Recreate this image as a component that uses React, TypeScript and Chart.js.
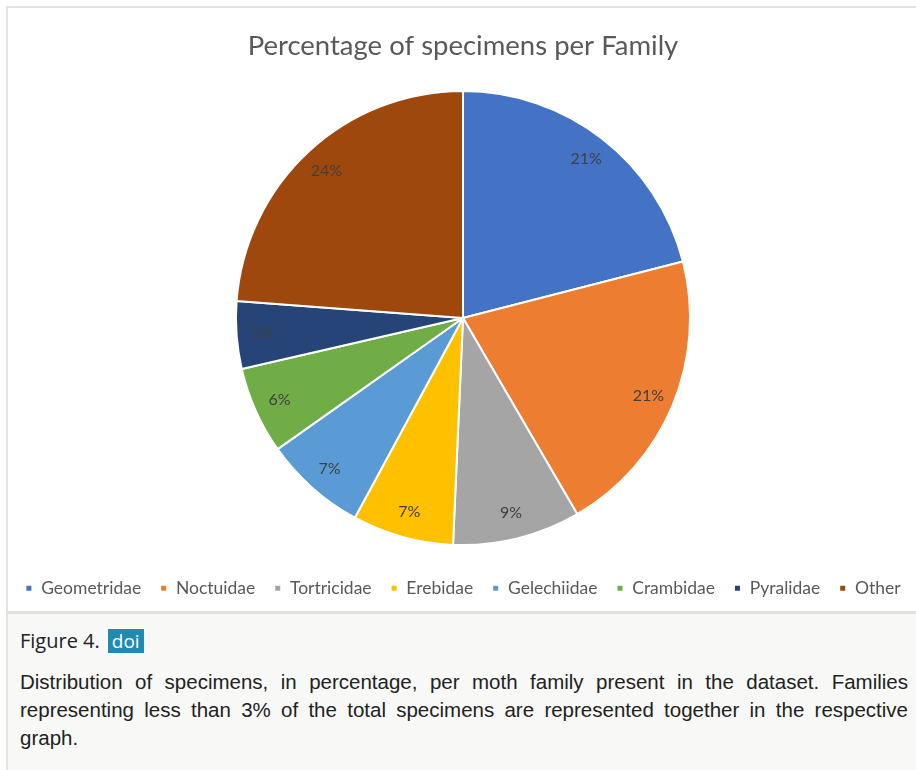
import React, { useEffect, useRef } from "react";
import { Chart, registerables } from "chart.js";

Chart.register(...registerables);

const chartTitle = "Percentage of specimens per Family";
const families = ["Geometridae", "Noctuidae", "Tortricidae", "Erebidae", "Gelechiidae", "Crambidae", "Pyralidae", "Other"];
const percentages = [21.0, 20.6, 9.1, 7.2, 7.3, 6.2, 4.8, 23.8];
const sliceColors = ["#4472C4", "#ED7D31", "#A5A5A5", "#FFC000", "#5B9BD5", "#70AD47", "#264478", "#9E480E"];

const captionTitle = "Figure 4.";
const captionBadge = "doi";
const captionText =
  "Distribution of specimens, in percentage, per moth family present in the dataset. Families representing less than 3% of the total specimens are represented together in the respective graph.";

const CANVAS_W = 950;
const CANVAS_H = 603;

const sliceLabelPlugin = {
  id: "sliceLabels",
  afterDatasetsDraw(chart: any) {
    const meta = chart.getDatasetMeta(0);
    const ctx = chart.ctx;
    const values: number[] = chart.data.datasets[0].data;
    const total = values.reduce((a, b) => a + b, 0);
    ctx.save();
    ctx.font = "16px Lato";
    ctx.fillStyle = "#404040";
    ctx.textAlign = "center";
    ctx.textBaseline = "middle";
    meta.data.forEach((arc: any, i: number) => {
      const p = arc.getProps(["x", "y", "startAngle", "endAngle", "outerRadius"], true);
      const mid = (p.startAngle + p.endAngle) / 2;
      const r = p.outerRadius * 0.885;
      const pct = Math.round((values[i] / total) * 100);
      ctx.fillText(pct + "%", p.x + Math.cos(mid) * r, p.y + Math.sin(mid) * r);
    });
    ctx.restore();
  },
};

function PieChart() {
  const ref = useRef<HTMLCanvasElement | null>(null);
  useEffect(() => {
    if (!ref.current) return;
    const chart = new Chart(ref.current, {
      type: "pie",
      data: {
        labels: families,
        datasets: [
          {
            data: percentages,
            backgroundColor: sliceColors,
            borderColor: "#ffffff",
            borderWidth: 2,
          },
        ],
      },
      options: {
        animation: false,
        responsive: false,
        maintainAspectRatio: false,
        layout: { padding: { top: 0, bottom: 4, left: 0, right: 0 } },
        plugins: {
          title: {
            display: true,
            text: chartTitle,
            color: "#595959",
            font: { family: "Lato", size: 27.5, weight: "normal" },
            padding: { top: 22, bottom: 27 },
          },
          legend: {
            position: "bottom",
            title: { display: true, text: " ", font: { size: 12 }, padding: 0 },
            labels: {
              boxWidth: 7,
              boxHeight: 7,
              color: "#595959",
              font: { family: "Lato", size: 17.5 },
              padding: 19,
            },
          },
          tooltip: { enabled: false },
        },
      },
      plugins: [sliceLabelPlugin],
    });
    return () => chart.destroy();
  }, []);
  return (
    <canvas
      ref={ref}
      width={CANVAS_W}
      height={CANVAS_H}
      style={{ display: "block", width: CANVAS_W, height: CANVAS_H }}
    />
  );
}

export default function App() {
  return (
    <div style={{ position: "absolute", left: 0, top: 0, width: 916, height: 770, background: "#ffffff", overflow: "hidden" }}>
      <div style={{ position: "absolute", left: -12, top: 8 }}>
        <PieChart />
      </div>
      <div style={{ position: "absolute", left: 6, top: 6, width: 910, height: 2, background: "#e4e4df" }} />
      <div style={{ position: "absolute", left: 0, top: 0, width: 6, height: 770, background: "#ffffff" }} />
      <div style={{ position: "absolute", left: 6, top: 6, width: 2, height: 764, background: "#e4e4df" }} />
      <div style={{ position: "absolute", left: 6, top: 611, width: 910, height: 3, background: "#e2e2dc" }} />
      <div style={{ position: "absolute", left: 8, top: 614, width: 908, height: 156, background: "#f8f8f6" }}>
        <div
          style={{
            position: "absolute",
            left: 12,
            top: 14,
            fontFamily: "'Open Sans', sans-serif",
            fontSize: 20,
            color: "#222222",
            lineHeight: "26px",
            display: "flex",
            alignItems: "center",
          }}
        >
          <span>{captionTitle}</span>
          <span
            style={{
              marginLeft: 8,
              background: "#1f8bb0",
              color: "#ffffff",
              padding: "0 4px",
              lineHeight: "24px",
              fontSize: 19,
            }}
          >
            {captionBadge}
          </span>
        </div>
        <div
          style={{
            position: "absolute",
            left: 12,
            top: 54,
            width: 888,
            fontFamily: "'Liberation Sans', Arial, sans-serif",
            fontSize: 20.5,
            lineHeight: "28px",
            color: "#222222",
            textAlign: "justify",
          }}
        >
          {captionText}
        </div>
      </div>
    </div>
  );
}
